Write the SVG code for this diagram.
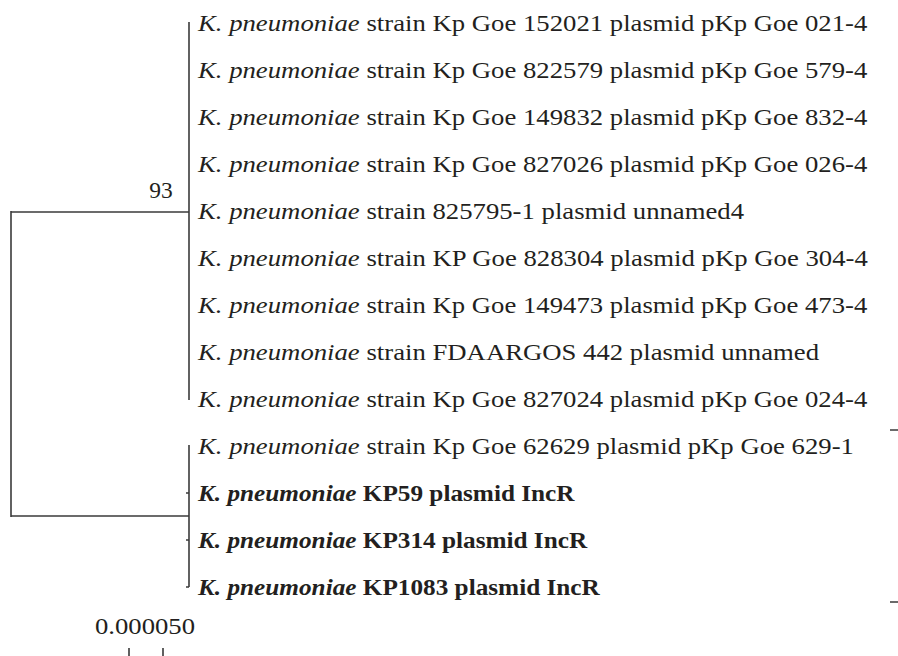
<svg xmlns="http://www.w3.org/2000/svg" width="898" height="656" viewBox="0 0 898 656">
<style>
text{font-family:'Liberation Serif','DejaVu Serif',serif;font-size:23.5px;fill:#231f20}
.b{font-weight:bold}
.ln{stroke:#3a3a3a;stroke-width:1.6;fill:none}
</style>
<rect width="898" height="656" fill="#fff"/>
<g id="connectors">
<path class="ln" d="M189,22 V400"/>
<path class="ln" d="M11,212 H189"/>
<path class="ln" d="M11,211 V517"/>
<path class="ln" d="M11,516 H189"/>
<path class="ln" d="M189,445 V587"/>
<path class="ln" d="M186,493 H189 M186,540 H189 M186,587 H189"/>
<path class="ln" d="M890,430 H898 M890,602 H898"/>
</g>
<g id="bootstrap"><text x="161" y="198" text-anchor="middle">93</text></g>
<g id="leaves" transform="matrix(1.137 0 0 1 -27.13 0)">
<text x="198" y="31"><tspan font-style="italic">K. pneumoniae</tspan> strain Kp Goe 152021 plasmid pKp Goe 021-4</text>
<text x="198" y="78"><tspan font-style="italic">K. pneumoniae</tspan> strain Kp Goe 822579 plasmid pKp Goe 579-4</text>
<text x="198" y="125"><tspan font-style="italic">K. pneumoniae</tspan> strain Kp Goe 149832 plasmid pKp Goe 832-4</text>
<text x="198" y="172"><tspan font-style="italic">K. pneumoniae</tspan> strain Kp Goe 827026 plasmid pKp Goe 026-4</text>
<text x="198" y="219"><tspan font-style="italic">K. pneumoniae</tspan> strain 825795-1 plasmid unnamed4</text>
<text x="198" y="266"><tspan font-style="italic">K. pneumoniae</tspan> strain KP Goe 828304 plasmid pKp Goe 304-4</text>
<text x="198" y="313"><tspan font-style="italic">K. pneumoniae</tspan> strain Kp Goe 149473 plasmid pKp Goe 473-4</text>
<text x="198" y="360"><tspan font-style="italic">K. pneumoniae</tspan> strain FDAARGOS 442 plasmid unnamed</text>
<text x="198" y="407"><tspan font-style="italic">K. pneumoniae</tspan> strain Kp Goe 827024 plasmid pKp Goe 024-4</text>
<text x="198" y="454"><tspan font-style="italic">K. pneumoniae</tspan> strain Kp Goe 62629 plasmid pKp Goe 629-1</text>
</g>
<g id="study-isolates" transform="matrix(1.075 0 0 1 -14.85 0)">
<text class="b" x="198" y="501"><tspan font-style="italic">K. pneumoniae</tspan> KP59 plasmid IncR</text>
<text class="b" x="198" y="548"><tspan font-style="italic">K. pneumoniae</tspan> KP314 plasmid IncR</text>
<text class="b" x="198" y="595"><tspan font-style="italic">K. pneumoniae</tspan> KP1083 plasmid IncR</text>
</g>
<g id="scale">
<text x="145" y="634" text-anchor="middle" transform="matrix(1.137 0 0 1 -19.87 0)">0.000050</text>
<path class="ln" d="M129,648 V656 M163,648 V656"/>
</g>
</svg>
